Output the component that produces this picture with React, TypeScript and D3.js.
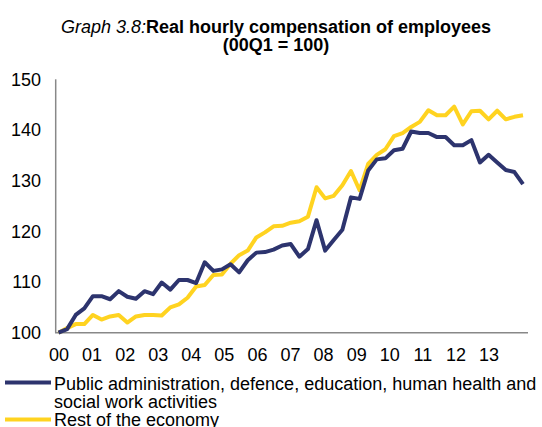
import React from 'react';
import * as d3 from 'd3';

// quarterly index, 00Q1 = 100 (00Q1 .. 13Q3)
const publicSector = [
  100, 100.7, 103.5, 104.8, 107.2, 107.2, 106.6, 108.2, 107.1, 106.7,
  108.2, 107.6, 109.9, 108.5, 110.4, 110.4, 109.8, 113.9, 112.2, 112.5,
  113.5, 111.9, 114.3, 115.8, 115.9, 116.4, 117.2, 117.5, 115.0, 116.5,
  122.2, 116.2, 118.3, 120.3, 126.7, 126.4, 132.0, 134.2, 134.4, 136.0,
  136.3, 139.7, 139.4, 139.4, 138.6, 138.6, 137.0, 137.0, 138.0, 133.6,
  135.1, 133.6, 132.1, 131.7, 129.3,
];

const restOfEconomy = [
  100, 100.9, 101.7, 101.7, 103.5, 102.6, 103.2, 103.5, 102.0, 103.2,
  103.5, 103.5, 103.4, 105.0, 105.6, 106.9, 109.1, 109.4, 111.4, 111.5,
  113.6, 115.3, 116.2, 118.8, 119.8, 121.0, 121.1, 121.7, 122.0, 122.9,
  128.7, 126.5, 127.0, 129.1, 131.9, 128.1, 133.3, 135.1, 136.2, 138.8,
  139.4, 140.6, 141.6, 143.9, 142.9, 142.9, 144.6, 141.1, 143.7, 143.8,
  142.1, 143.8, 142.1, 142.6, 142.9,
];

const yearLabels = ['00', '01', '02', '03', '04', '05', '06', '07', '08', '09', '10', '11', '12', '13'];
const yTicks = [100, 110, 120, 130, 140, 150];

const seriesNames = [
  ['Public administration, defence, education, human health and', 'social work activities'],
  ['Rest of the economy'],
];

const NAVY = '#2d346e';
const YELLOW = '#ffd320';
const FONT = 'Liberation Sans, Arial, sans-serif';
const FS = 18;

export default function App() {
  const width = 542;
  const height = 427;

  const x = d3.scaleLinear().domain([0, publicSector.length - 1]).range([58.5, 523]);
  const xYear = d3.scaleLinear().domain([0, yearLabels.length - 1]).range([59, 489]);
  const y = d3.scaleLinear().domain([100, 150]).range([332.7, 79.3]);

  const line = d3.line<number>()
    .x((_, i) => x(i))
    .y(d => y(d));

  return (
    <div style={{ position: 'absolute', left: 0, top: 0 }}>
      <svg width={width} height={height} style={{ display: 'block', fontFamily: FONT }}>
        <text x={276} y={33} textAnchor="middle" fontSize={FS} fill="#000">
          <tspan fontStyle="italic">Graph 3.8:</tspan>
          <tspan fontWeight="bold">Real hourly compensation of employees</tspan>
        </text>
        <text x={276} y={51} textAnchor="middle" fontSize={FS} fontWeight="bold" fill="#000">
          (00Q1 = 100)
        </text>

        {yTicks.map(t => (
          <text key={t} x={41} y={y(t)} dy="0.35em" textAnchor="end" fontSize={FS} fill="#000">
            {t}
          </text>
        ))}
        {yearLabels.map((l, i) => (
          <text key={l} x={xYear(i)} y={361} textAnchor="middle" fontSize={FS} fill="#000">
            {l}
          </text>
        ))}

        <line x1={55.7} x2={55.7} y1={y(150)} y2={y(100)} stroke="#888" strokeWidth={1.5} />
        <line x1={55} x2={528} y1={y(100)} y2={y(100)} stroke="#888" strokeWidth={1.5} />

        <path d={line(restOfEconomy) ?? ''} fill="none" stroke={YELLOW} strokeWidth={4} strokeLinejoin="round" />
        <path d={line(publicSector) ?? ''} fill="none" stroke={NAVY} strokeWidth={4} strokeLinejoin="round" />

        <line x1={5} x2={51} y1={382.5} y2={382.5} stroke={NAVY} strokeWidth={4} />
        <text x={54} y={390} fontSize={FS} fill="#000">
          {seriesNames[0].map((s, i) => (
            <tspan key={i} x={54} dy={i === 0 ? 0 : 18}>{s}</tspan>
          ))}
        </text>
        <line x1={5} x2={51} y1={419.5} y2={419.5} stroke={YELLOW} strokeWidth={4} />
        <text x={54} y={426} fontSize={FS} fill="#000">{seriesNames[1][0]}</text>
      </svg>
    </div>
  );
}
